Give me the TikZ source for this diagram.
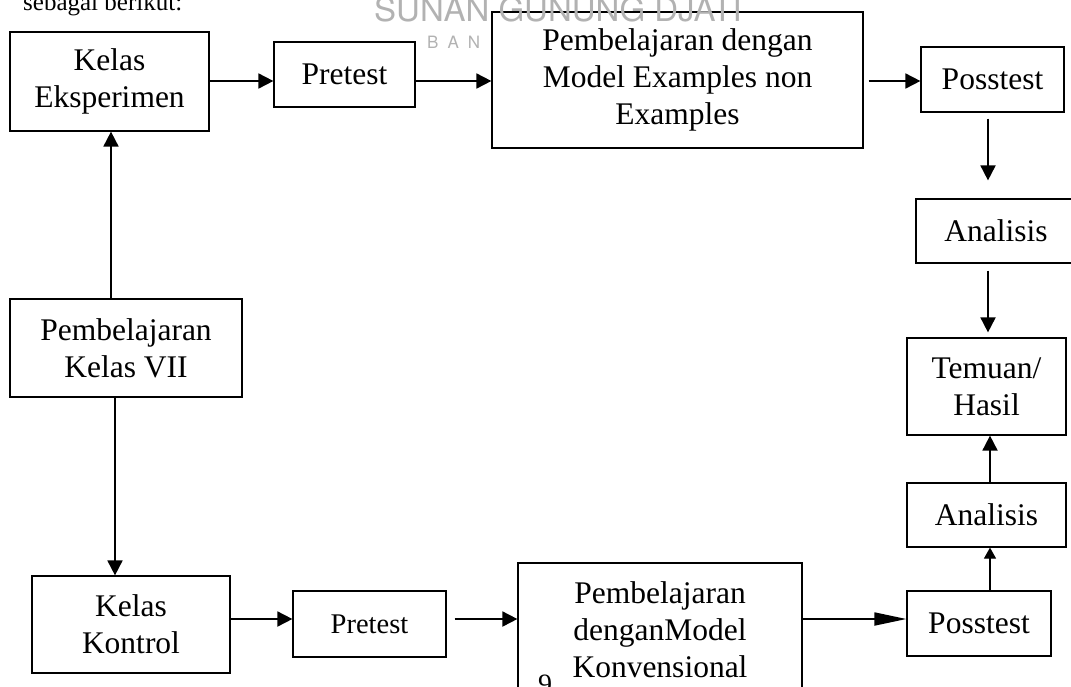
\documentclass[tikz,border=0pt]{standalone}
\usepackage{fontspec}
\setmainfont{Liberation Serif}
\setsansfont{TeX Gyre Heros}
\usetikzlibrary{arrows.meta}
\definecolor{wm}{RGB}{178,178,178}
\begin{document}
\begin{tikzpicture}[x=1pt,y=-1pt,
  box/.style={draw, line width=1.2pt, inner sep=0pt, align=center,
    font=\fontsize{31.5}{37}\selectfont},
  arr/.style={line width=1.8pt, -{Triangle[length=15pt,width=15pt]}},
  slim/.style={line width=1.8pt, -{Triangle[length=32pt,width=13pt]}},
  thin/.style={line width=1.1pt, -{Triangle[length=11pt,width=12pt]}},
  wmark/.style={text=wm, inner sep=0pt, anchor=base west},
  plain/.style={inner sep=0pt, anchor=base west},
]
\useasboundingbox (0,0) rectangle (1071,686);
% watermark (visible part of the lower line) and surrounding page text
\node[wmark, font=\sffamily\fontsize{17}{17}\selectfont] (wm2) at (427,48)
  {B\hspace{9pt}A\hspace{9pt}N};
\node[plain, font=\fontsize{25}{25}\selectfont] (intro) at (23,10) {sebagai berikut:};
\node[plain, font=\fontsize{28}{28}\selectfont] (pg) at (538,693) {9};

% boxes
\node[box, minimum width=199pt, minimum height=99pt] (KE) at (109.5,81.5) {Kelas\\Eksperimen};
\node[box, minimum width=141pt, minimum height=65pt] (PT1) at (344.5,74.5) {Pretest};
\node[box, fill=white, minimum width=371pt, minimum height=136pt] (PB1) at (677.5,80) {Pembelajaran dengan\\Model Examples non\\Examples};
\node[box, minimum width=143pt, minimum height=65pt] (PS1) at (992.5,79.5) {Posstest};
\node[box, minimum width=160pt, minimum height=64pt] (AN1) at (996,231) {Analisis};
\node[box, minimum width=159pt, minimum height=97pt] (TH) at (986.5,386.5) {Temuan/\\Hasil};
\node[box, minimum width=159pt, minimum height=64pt] (AN2) at (986.5,515) {Analisis};
\node[box, minimum width=144pt, minimum height=65pt] (PS2) at (979,623.5) {Posstest};
\node[box, minimum width=284pt, minimum height=134pt] (PB2) at (660,630) {Pembelajaran\\denganModel\\Konvensional};
\node[box, minimum width=153pt, minimum height=66pt, font=\fontsize{28.5}{34}\selectfont] (PT2) at (369.5,624) {Pretest};
\node[box, minimum width=198pt, minimum height=97pt] (KK) at (131,624.5) {Kelas\\Kontrol};
\node[box, minimum width=232pt, minimum height=98pt] (PK) at (126,348) {Pembelajaran\\Kelas VII};

% watermark upper line, over the box
\node[wmark, font=\sffamily\fontsize{33}{33}\selectfont] (wm1) at (374,21) {SUNAN GUNUNG DJATI};

% helper coordinates for off-centre vertical connectors
\coordinate (xu) at (111,0);
\coordinate (xd) at (115,0);
\coordinate (xr1) at (988,0);
\coordinate (xr2) at (990,0);
\coordinate (yt) at (0,81);
\coordinate (yb) at (0,619);

% connectors
\draw[arr] (PK.north -| xu) -- (KE.south -| xu);
\draw[arr] (PK.south -| xd) -- (KK.north -| xd);
\draw[arr] (KE.east |- yt) -- (PT1.west |- yt);
\draw[arr] (PT1.east |- yt) -- (PB1.west |- yt);
\draw[arr, shorten <=5pt] (PB1.east |- yt) -- (PS1.west |- yt);
\draw[arr, shorten <=6pt, shorten >=18pt] (PS1.south -| xr1) -- (AN1.north -| xr1);
\draw[arr, shorten <=7pt, shorten >=5pt] (AN1.south -| xr1) -- (TH.north -| xr1);
\draw[arr] (AN2.north -| xr2) -- (TH.south -| xr2);
\draw[thin] (PS2.north -| xr2) -- (AN2.south -| xr2);
\draw[arr] (KK.east |- yb) -- (PT2.west |- yb);
\draw[arr, shorten <=8pt] (PT2.east |- yb) -- (PB2.west |- yb);
\draw[slim] (PB2.east |- yb) -- (PS2.west |- yb);
\end{tikzpicture}
\end{document}
